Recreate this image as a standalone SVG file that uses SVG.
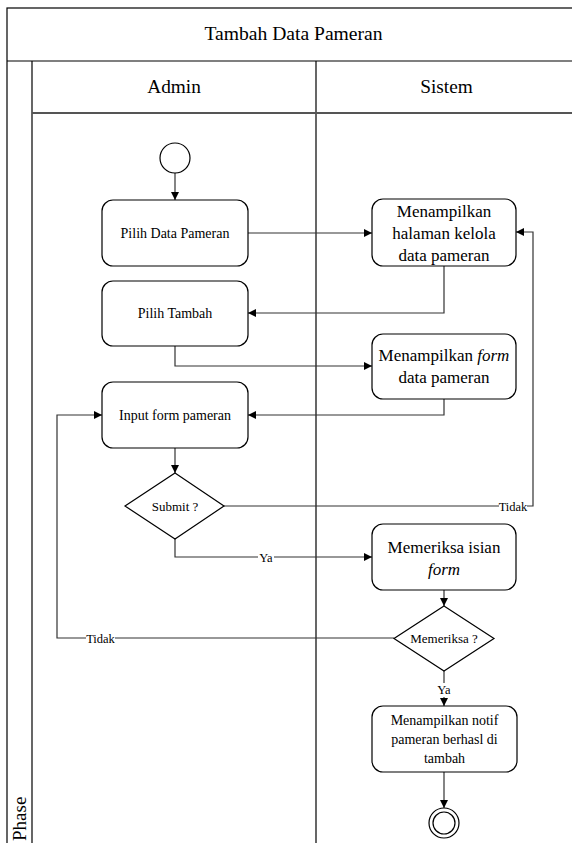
<svg xmlns="http://www.w3.org/2000/svg" width="572" height="843" viewBox="0 0 572 843">
  <style>
    text { font-family: "Liberation Serif", "Times New Roman", serif; fill: #000; }
    .frame { fill: none; stroke: #000; stroke-width: 1.2; }
    .head { fill: none; stroke: #555; stroke-width: 1.8; }
    .node { fill: #fff; stroke: #000; stroke-width: 1.2; }
    .edge { fill: none; stroke: #333; stroke-width: 1.2; }
    .lbl { font-size: 12.5px; text-anchor: middle; }
    .t14 { font-size: 14px; text-anchor: middle; }
    .t17 { font-size: 17px; text-anchor: middle; }
    .t13 { font-size: 13px; text-anchor: middle; }
  </style>
  <defs>
    <marker id="arrow" viewBox="0 0 10 10" refX="10" refY="5" markerWidth="8" markerHeight="8" markerUnits="userSpaceOnUse" orient="auto">
      <path d="M0,0 L10,5 L0,10 Z" fill="#000"/>
    </marker>
  </defs>

  <rect width="572" height="843" fill="#fff"/>

  <!-- pool and swimlanes -->
  <g id="pool">
    <rect class="frame" x="7" y="8" width="580" height="850"/>
    <line class="frame" x1="7" y1="61" x2="587" y2="61"/>
    <line class="frame" x1="32" y1="61" x2="32" y2="858"/>
    <line class="frame" x1="316" y1="61" x2="316" y2="858"/>
    <line class="head" x1="32" y1="113" x2="587" y2="113"/>
    <text x="293.5" y="40" font-size="19.6" text-anchor="middle">Tambah Data Pameran</text>
    <text x="174" y="92.5" font-size="19.3" text-anchor="middle">Admin</text>
    <text x="446.5" y="92.5" font-size="19.3" text-anchor="middle">Sistem</text>
    <text transform="translate(25.5,841) rotate(-90)" font-size="19">Phase</text>
  </g>

  <!-- connectors -->
  <g id="connectors">
    <path class="edge" d="M175,173 V200" marker-end="url(#arrow)"/>
    <path class="edge" d="M248,233 H372" marker-end="url(#arrow)"/>
    <path class="edge" d="M444,266 V313 H248" marker-end="url(#arrow)"/>
    <path class="edge" d="M175,346 V366 H372" marker-end="url(#arrow)"/>
    <path class="edge" d="M444,399 V415 H248" marker-end="url(#arrow)"/>
    <path class="edge" d="M175,448 V473" marker-end="url(#arrow)"/>
    <path class="edge" d="M224,506 H533 V232 H516" marker-end="url(#arrow)"/>
    <path class="edge" d="M175,539 V557 H372" marker-end="url(#arrow)"/>
    <path class="edge" d="M444,590 V606" marker-end="url(#arrow)"/>
    <path class="edge" d="M394,638 H57 V415 H102" marker-end="url(#arrow)"/>
    <path class="edge" d="M444,671 V706" marker-end="url(#arrow)"/>
    <path class="edge" d="M444,772 V808" marker-end="url(#arrow)"/>
    <!-- edge labels -->
    <rect x="499" y="500" width="28" height="13" fill="#fff"/>
    <text class="lbl" x="513" y="511">Tidak</text>
    <rect x="258" y="551" width="16" height="13" fill="#fff"/>
    <text class="lbl" x="266" y="562">Ya</text>
    <rect x="86" y="632" width="29" height="13" fill="#fff"/>
    <text class="lbl" x="100.5" y="643">Tidak</text>
    <rect x="436" y="683" width="16" height="14" fill="#fff"/>
    <text class="lbl" x="444" y="694">Ya</text>
  </g>

  <!-- Admin lane -->
  <g id="start">
    <circle class="node" cx="175" cy="158" r="15"/>
  </g>
  <g id="pilih-data-pameran">
    <rect class="node" x="102" y="200" width="146" height="66" rx="11"/>
    <text class="t14" x="175" y="238">Pilih Data Pameran</text>
  </g>
  <g id="pilih-tambah">
    <rect class="node" x="102" y="281" width="146" height="65" rx="11"/>
    <text class="t14" x="175" y="318">Pilih Tambah</text>
  </g>
  <g id="input-form">
    <rect class="node" x="102" y="382" width="146" height="66" rx="11"/>
    <text class="t14" x="175" y="420">Input form pameran</text>
  </g>
  <g id="submit">
    <polygon class="node" points="175,473 224,506 175,539 125,506"/>
    <text class="t13" x="175" y="510.5">Submit ?</text>
  </g>

  <!-- Sistem lane -->
  <g id="halaman-kelola">
    <rect class="node" x="372" y="199" width="144" height="67" rx="11"/>
    <text class="t17" x="444" y="217">Menampilkan</text>
    <text class="t17" x="444" y="239">halaman kelola</text>
    <text class="t17" x="444" y="261">data pameran</text>
  </g>
  <g id="tampil-form">
    <rect class="node" x="372" y="334" width="144" height="65" rx="11"/>
    <text class="t17" x="444" y="361">Menampilkan <tspan font-style="italic">form</tspan></text>
    <text class="t17" x="444" y="383">data pameran</text>
  </g>
  <g id="memeriksa-isian">
    <rect class="node" x="372" y="524" width="144" height="66" rx="11"/>
    <text class="t17" x="444" y="553">Memeriksa isian</text>
    <text class="t17" x="444" y="575" font-style="italic">form</text>
  </g>
  <g id="memeriksa">
    <polygon class="node" points="444,606 494,638.5 444,671 394,638.5"/>
    <text class="t13" x="444" y="643">Memeriksa ?</text>
  </g>
  <g id="notif">
    <rect class="node" x="372" y="706" width="145" height="66" rx="11"/>
    <text class="t14" x="444.5" y="725">Menampilkan notif</text>
    <text class="t14" x="444.5" y="744">pameran berhasl di</text>
    <text class="t14" x="444.5" y="763">tambah</text>
  </g>
  <g id="end">
    <circle class="node" cx="444" cy="823" r="15"/>
    <circle class="node" cx="444" cy="823" r="11"/>
  </g>
</svg>
